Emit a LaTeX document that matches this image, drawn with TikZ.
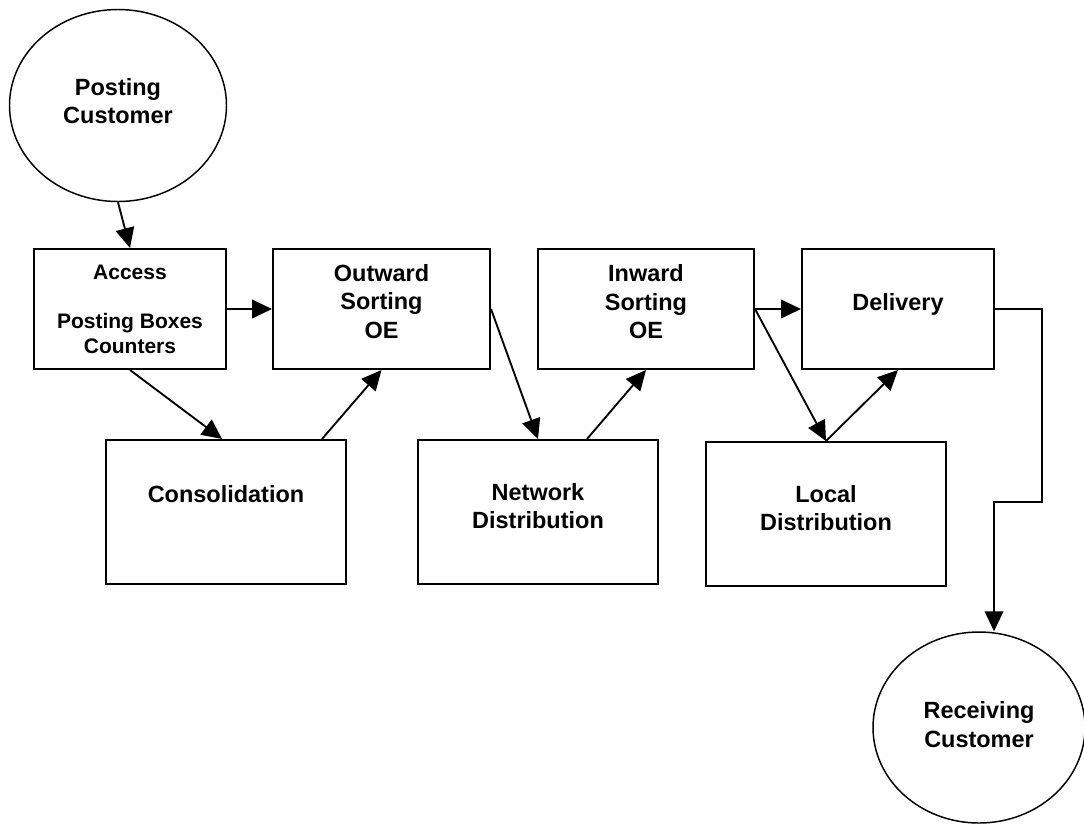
\documentclass[tikz,border=0pt]{standalone}
\usepackage{fontspec}
\setmainfont{Liberation Sans}
\usetikzlibrary{arrows.meta,shapes.geometric,fit,calc}
\begin{document}
\begin{tikzpicture}[x=0.75pt,y=-0.75pt,
  box/.style={draw, line width=1.5pt, inner sep=0pt, rectangle},
  cust/.style={draw, line width=1.1pt, ellipse, inner sep=0pt},
  lbl/.style={align=center, font=\bfseries\fontsize{17.6}{21.3}\selectfont, inner sep=0pt},
  small/.style={align=center, font=\bfseries\fontsize{15.75}{18.5}\selectfont, inner sep=0pt},
  flow/.style={line width=1.4pt, -{Triangle[length=15pt,width=14pt]}}
]
\useasboundingbox (0,0) rectangle (1084,825);

% customers
\node[cust, minimum width=162.75pt, minimum height=144pt] (pc) at (118,105.5) {};
\node[cust, minimum width=159pt, minimum height=143.25pt] (rc) at (979,727.5) {};

% boxes
\node[box, fit={(34,249) (226,369)}] (acc) {};
\node[box, fit={(273,249) (490,369)}] (outw) {};
\node[box, fit={(538,249) (754,369)}] (inw) {};
\node[box, fit={(802,249) (994,369)}] (deliv) {};
\node[box, fit={(106,440) (346,584)}] (cons) {};
\node[box, fit={(418,440) (658,584)}] (netw) {};
\node[box, fit={(706,442) (946,586)}] (locd) {};

% texts
\node[lbl] (pc-t) at (118,101) {Posting\\Customer};
\node[lbl] (rc-t) at (979,724.5) {Receiving\\Customer};
\node[small] (acc-t) at (130,309) {Access\\[18.5pt]Posting Boxes\\Counters};
\node[lbl] (outw-t) at (381.5,301.5) {Outward\\Sorting\\OE};
\node[lbl] (inw-t) at (646,302) {Inward\\Sorting\\OE};
\node[lbl] (deliv-t) at (898,304) {Delivery};
\node[lbl] (cons-t) at (226,494) {Consolidation};
\node[lbl] (netw-t) at (538,506) {Network\\Distribution};
\node[lbl] (locd-t) at (826,508) {Local\\Distribution};

% connectors
\draw[flow] (pc.south) -- (acc.north);
\draw[flow] (acc.east) -- (outw.west);
\draw[flow] (acc.south) -- ($(cons.north west)+(117,0)$);
\draw[flow] ($(cons.north west)+(217,0)$) -- (outw.south);
\draw[flow] (outw.east) -- (netw.north);
\draw[flow] ($(netw.north west)+(170,0)$) -- (inw.south);
\draw[flow] (inw.east) -- (deliv.west);
\draw[flow] (inw.east) -- (locd.north);
\draw[flow] (locd.north) -- (deliv.south);
\coordinate (r1) at (1042,309);
\coordinate (r2) at (1042,502);
\coordinate (r3) at (994,502);
\draw[flow] (deliv.east) -- (r1) -- (r2) -- (r3) -- (r3 |- rc.north);
\end{tikzpicture}
\end{document}
